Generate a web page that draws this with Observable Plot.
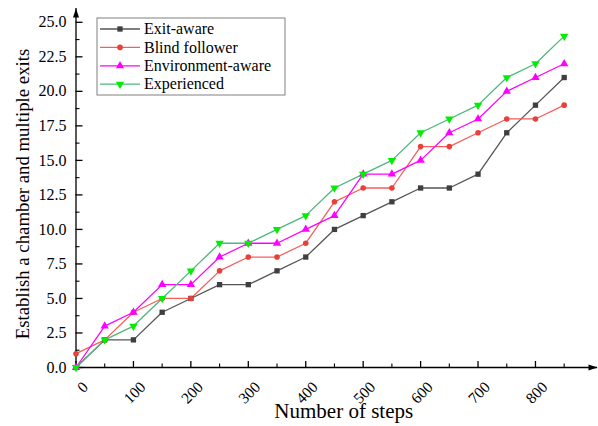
<!DOCTYPE html>
<html><head><meta charset="utf-8">
<script src="https://cdn.jsdelivr.net/npm/d3@7"></script>
<script src="https://cdn.jsdelivr.net/npm/@observablehq/plot@0.6"></script>
<style>body{margin:0;background:#fff}</style>
</head><body><div id="chart"></div>
<script>
const steps = [0,50,100,150,200,250,300,350,400,450,500,550,600,650,700,750,800,850];
const exitAware        = [0,2,2,4,5,6,6,7,8,10,11,12,13,13,14,17,19,21];
const blindFollower    = [1,2,4,5,5,7,8,8,9,12,13,13,16,16,17,18,18,19];
const environmentAware = [0,3,4,6,6,8,9,9,10,11,14,14,15,17,18,20,21,22];
const experienced      = [0,2,3,5,7,9,9,10,11,13,14,15,17,18,19,21,22,24];
const seriesNames = ["Exit-aware","Blind follower","Environment-aware","Experienced"];
const xTicks = [0,100,200,300,400,500,600,700,800];
const xMinorTicks = [50,150,250,350,450,550,650,750,850];
const yTicks = [0,2.5,5,7.5,10,12.5,15,17.5,20,22.5,25];
const yMinorTicks = [1.25,3.75,6.25,8.75,11.25,13.75,16.25,18.75,21.25,23.75];
const xLabel = "Number of steps";
const yLabel = "Establish a chamber and multiple exits";

const seriesValues = [exitAware, blindFollower, environmentAware, experienced];
const lineColors = ["#555555","#f25f5c","#ff00ff","#4cb87a"];
const markColors = ["#3f3f3f","#e8403a","#ff00ff","#00ee00"];
const symbols = ["square","circle","triangle","triangle"];
const rotations = [0,0,0,180];
const radii = [3,2.8,3.1,3.1];

const data = [];
seriesNames.forEach((s,i) => steps.forEach((x,j) => data.push({series:s, idx:i, step:x, value:seriesValues[i][j]})));

const font = "'Liberation Serif','Times New Roman',serif";
const W = 598, H = 426, mL = 75.5, mR = 1, mT = 8, mB = 59;
const yMax = 26.0, xMax = 908;
const pxY = yMax / (H - mT - mB); // data units per pixel (y)
const pxX = xMax / (W - mL - mR);

const arrowSym = {draw(ctx){ ctx.moveTo(0,0); ctx.lineTo(3,9); ctx.lineTo(-3,9); ctx.closePath(); }};

const marks = [
  Plot.ruleY([0], {stroke:"#000", strokeWidth:1.3}),
  Plot.ruleX([0], {stroke:"#000", strokeWidth:1.3}),
  Plot.ruleX(xTicks, {x:d=>d, y1:0, y2:6*pxY, stroke:"#000", strokeWidth:1.3}),
  Plot.ruleX(xMinorTicks, {x:d=>d, y1:0, y2:3.5*pxY, stroke:"#000", strokeWidth:1.1}),
  Plot.ruleY(yTicks, {y:d=>d, x1:0, x2:7*pxX, stroke:"#000", strokeWidth:1.3}),
  Plot.ruleY(yMinorTicks, {y:d=>d, x1:0, x2:4*pxX, stroke:"#000", strokeWidth:1.1}),
  Plot.dot([0], {x:0, y:yMax, symbol:arrowSym, fill:"#000", stroke:null}),
  Plot.dot([0], {x:xMax, y:0, symbol:arrowSym, rotate:90, fill:"#000", stroke:null}),
  Plot.text(yTicks, {x:0, y:d=>d, text:d=>d.toFixed(1), textAnchor:"end", dx:-9.5, fontSize:16, fill:"#000", fontFamily:font}),
  Plot.text(xTicks, {x:d=>d, y:0, text:d=>String(d), rotate:-45, textAnchor:"end", dx:9.5, dy:17, fontSize:15.5, fill:"#000", fontFamily:font}),
  Plot.text([xLabel], {frameAnchor:"bottom", textAnchor:"middle", text:d=>d, dx:7, dy:50, fontSize:21, fill:"#000", fontFamily:font}),
  Plot.text([yLabel], {frameAnchor:"left", textAnchor:"middle", text:d=>d, rotate:-90, dx:-53.5, dy:6, fontSize:18.8, fill:"#000", fontFamily:font})
];
seriesNames.forEach((s,i) => {
  const d = data.filter(r => r.idx === i);
  marks.push(Plot.line(d, {x:"step", y:"value", stroke:lineColors[i], strokeWidth:1.3}));
});
seriesNames.forEach((s,i) => {
  const d = data.filter(r => r.idx === i);
  marks.push(Plot.dot(d, {x:"step", y:"value", symbol:symbols[i], rotate:rotations[i], r:radii[i], fill:markColors[i], stroke:null}));
});

const plot = Plot.plot({
  width:W, height:H, marginLeft:mL, marginRight:mR, marginTop:mT, marginBottom:mB,
  style:{fontFamily:font, background:"white", overflow:"visible"},
  x:{domain:[0,xMax], axis:null},
  y:{domain:[0,yMax], axis:null},
  marks
});
document.getElementById("chart").appendChild(plot);

// legend inside plot area
const svg = d3.select(plot);
const lg = svg.append("g").attr("font-family", font).attr("text-anchor","start");
lg.append("rect").attr("x",97).attr("y",18).attr("width",188).attr("height",77)
  .attr("fill","#fff").attr("stroke","#808080").attr("stroke-width",1);
seriesNames.forEach((s,i) => {
  const y = 29 + i*18.4;
  lg.append("line").attr("x1",100).attr("x2",140).attr("y1",y).attr("y2",y)
    .attr("stroke",lineColors[i]).attr("stroke-width",1.3);
  const sym = d3.symbol().type({square:d3.symbolSquare, circle:d3.symbolCircle, triangle:d3.symbolTriangle}[symbols[i]]).size(radii[i]*radii[i]*Math.PI);
  lg.append("path").attr("d", sym()).attr("fill", markColors[i])
    .attr("transform", `translate(120,${y}) rotate(${rotations[i]})`);
  lg.append("text").attr("x",144).attr("y",y).attr("dy","0.33em").attr("font-size",16).attr("fill","#000").text(s);
});
</script>
</body></html>
